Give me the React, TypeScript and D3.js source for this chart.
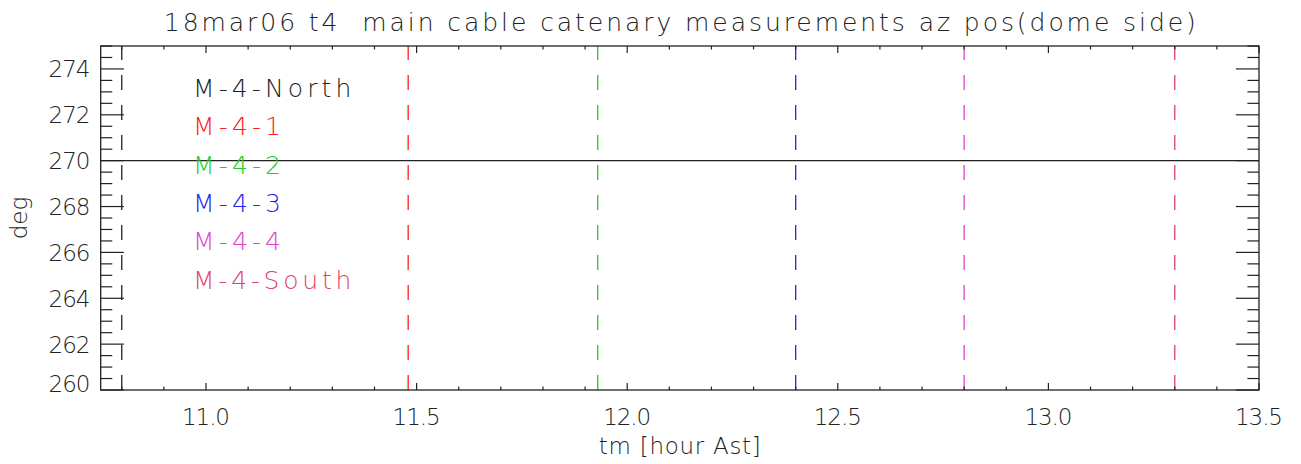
import React from "react";
import * as d3 from "d3";

const W = 1301;
const H = 464;
const M = { left: 100.7, right: 1259, top: 46, bottom: 390 };

const title = "18mar06 t4  main cable catenary measurements az pos(dome side)";
const xLabel = "tm [hour Ast]";
const yLabel = "deg";

const xDomain = [10.75, 13.5];
const yDomain = [260, 275];
const xTickValues = [11.0, 11.5, 12.0, 12.5, 13.0, 13.5];
const yTickValues = [260, 262, 264, 266, 268, 270, 272, 274];

const seriesNames = ["M-4-North", "M-4-1", "M-4-2", "M-4-3", "M-4-4", "M-4-South"];
const seriesColors = ["#222222", "#ff2020", "#22cc22", "#2222ee", "#dd44cc", "#dd4466"];
const seriesTimes = [10.8, 11.48, 11.93, 12.4, 12.8, 13.3];
const refLevel = 270;

const FONT = "'DejaVu Sans', 'Open Sans', sans-serif";

export default function App() {
  const x = d3.scaleLinear().domain(xDomain).range([M.left, M.right]);
  const y = d3.scaleLinear().domain(yDomain).range([M.bottom, M.top]);
  const pw = M.right - M.left;
  const ph = M.bottom - M.top;
  const xMajLen = ph * 0.02;
  const yMajLen = pw * 0.02;

  const xMinor = d3.range(10.8, 13.5001, 0.1).map((v) => +v.toFixed(2));
  const yMinor = d3.range(260, 275.0001, 0.5);

  const stroke = "#222";
  const textColor = "#222";
  const fw = 200;

  return (
    <svg width={W} height={H} style={{ position: "absolute", left: 0, top: 0, background: "#fff" }}>
      <rect x={0} y={0} width={W} height={H} fill="#fff" />
      <text x={(M.left + M.right) / 2} y={31} textAnchor="middle" fontFamily={FONT} fontSize={25} fontWeight={fw}
        fill={textColor} textLength={1032} lengthAdjust="spacing" style={{ whiteSpace: "pre" }}>{title}</text>

      {/* vertical dashed lines */}
      {seriesTimes.map((t, i) => (
        <line key={"v" + i} x1={x(t)} x2={x(t)} y1={M.bottom} y2={M.top} stroke={seriesColors[i]}
          strokeWidth={1.3} strokeDasharray="15 15" />
      ))}

      {/* horizontal reference line */}
      <line x1={M.left} x2={M.right} y1={y(refLevel)} y2={y(refLevel)} stroke={stroke} strokeWidth={1.2} />

      {/* frame */}
      <rect x={M.left} y={M.top} width={pw} height={ph} fill="none" stroke={stroke} strokeWidth={1.3} />

      {/* x ticks */}
      {xMinor.map((v, i) => {
        const major = xTickValues.some((t) => Math.abs(t - v) < 1e-6);
        const len = major ? xMajLen : xMajLen / 2;
        return (
          <g key={"xt" + i}>
            <line x1={x(v)} x2={x(v)} y1={M.bottom} y2={M.bottom - len} stroke={stroke} strokeWidth={1.2} />
            <line x1={x(v)} x2={x(v)} y1={M.top} y2={M.top + len} stroke={stroke} strokeWidth={1.2} />
          </g>
        );
      })}
      {xTickValues.map((v, i) => (
        <text key={"xl" + i} x={x(v)} y={425} textAnchor="middle" fontFamily={FONT} fontSize={23} fontWeight={fw}
          fill={textColor} textLength={48} lengthAdjust="spacing">{v.toFixed(1)}</text>
      ))}

      {/* y ticks */}
      {yMinor.map((v, i) => {
        const major = v % 2 === 0;
        const len = major ? yMajLen : yMajLen / 2;
        return (
          <g key={"yt" + i}>
            <line x1={M.left} x2={M.left + len} y1={y(v)} y2={y(v)} stroke={stroke} strokeWidth={1.2} />
            <line x1={M.right} x2={M.right - len} y1={y(v)} y2={y(v)} stroke={stroke} strokeWidth={1.2} />
          </g>
        );
      })}
      {yTickValues.map((v, i) => (
        <text key={"yl" + i} x={90.5} y={Math.min(y(v), M.bottom - 7) + 8.5} textAnchor="end" fontFamily={FONT}
          fontSize={23} fontWeight={fw} fill={textColor} textLength={42} lengthAdjust="spacing">{String(v)}</text>
      ))}

      {/* axis labels */}
      <text x={(M.left + M.right) / 2} y={454} textAnchor="middle" fontFamily={FONT} fontSize={23} fontWeight={fw}
        fill={textColor} textLength={162} lengthAdjust="spacing">{xLabel}</text>
      <text transform={`translate(27, ${(M.top + M.bottom) / 2}) rotate(-90)`} textAnchor="middle" fontFamily={FONT}
        fontSize={23} fontWeight={fw} fill={textColor}>{yLabel}</text>

      {/* legend */}
      {seriesNames.map((n, i) => (
        <text key={"lg" + i} x={193} y={97 + i * 38.3} fontFamily={FONT} fontSize={25} fontWeight={fw}
          fill={seriesColors[i]} textLength={n.length * 17.6} lengthAdjust="spacing">{n}</text>
      ))}
    </svg>
  );
}
